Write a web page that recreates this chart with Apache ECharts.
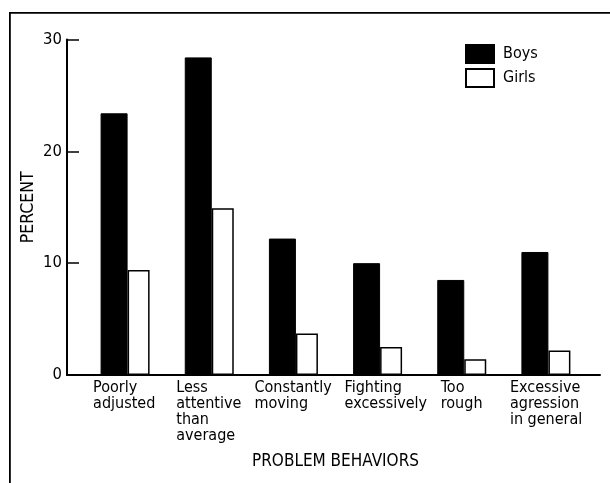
<!DOCTYPE html>
<html>
<head>
<meta charset="utf-8">
<script src="https://cdn.jsdelivr.net/npm/echarts@6/dist/echarts.min.js"></script>
<style>
html,body{margin:0;padding:0;background:#fff;}
#chart{width:610px;height:483px;}
</style>
</head>
<body>
<div id="chart"></div>
<script>
// ---- data ----
const categories = ['Poorly\nadjusted', 'Less\nattentive\nthan\naverage', 'Constantly\nmoving', 'Fighting\nexcessively', 'Too\nrough', 'Excessive\nagression\nin general'];
const boys = [23.4, 28.4, 12.2, 10.0, 8.5, 11.0];
const girls = [9.4, 14.9, 3.7, 2.5, 1.4, 2.2];
const seriesNames = ['Boys', 'Girls'];
const yTicks = [0, 10, 20, 30];
const yTitle = 'PERCENT';
const xTitle = 'PROBLEM BEHAVIORS';

// ---- style ----
const FONT = "'DejaVu Sans Condensed', 'Liberation Sans', sans-serif";
const labelShift = [32, 33, 39, 33, 21, 36];
const rich = {};
labelShift.forEach((s, i) => {
  rich['r' + i] = { width: s * 2, align: 'left', fontSize: 16, lineHeight: 16, color: '#000', fontFamily: FONT };
});

const chart = echarts.init(document.getElementById('chart'), null, { renderer: 'canvas' });
chart.setOption({
  animation: false,
  backgroundColor: '#fff',
  textStyle: { fontFamily: FONT, color: '#000' },
  graphic: [{
    type: 'rect', left: 9, top: 12,
    shape: { width: 700, height: 600 },
    style: { fill: 'transparent', stroke: '#000', lineWidth: 1.8 },
    silent: true
  }],
  legend: {
    data: seriesNames,
    orient: 'vertical',
    left: 460, top: 39,
    itemWidth: 28, itemHeight: 18, itemGap: 4,
    icon: 'rect',
    textStyle: { fontSize: 16, color: '#000', fontFamily: FONT, padding: [0, 0, 0, 4] }
  },
  grid: [
    { left: 83, right: 22, top: 39.5, bottom: 108 },
    { left: 67, right: 10, top: 39.5, bottom: 108 }
  ],
  xAxis: [{
    type: 'category',
    gridIndex: 0,
    data: categories,
    axisLine: { show: false },
    axisTick: { show: false },
    axisLabel: {
      interval: 0,
      margin: 5,
      align: 'center',
      verticalAlign: 'top',
      formatter: (v, i) => '{r' + i + '|' + v + '}',
      rich: rich
    },
    name: xTitle,
    nameLocation: 'middle',
    nameGap: 78,
    nameMoveOverlap: false,
    nameTextStyle: { fontSize: 17, color: '#000', fontFamily: FONT }
  }, {
    type: 'value',
    gridIndex: 1,
    min: 0, max: 1,
    axisLine: { show: true, onZero: false, lineStyle: { color: '#000', width: 2 } },
    axisTick: { show: false },
    axisLabel: { show: false },
    splitLine: { show: false }
  }],
  yAxis: [{
    type: 'value',
    gridIndex: 0,
    min: yTicks[0], max: yTicks[yTicks.length - 1], interval: 10,
    offset: 16,
    axisLine: { show: true, lineStyle: { color: '#000', width: 2 } },
    axisTick: { show: true, inside: true, length: 12, lineStyle: { color: '#000', width: 1.5 } },
    axisLabel: { margin: 5, fontSize: 16.5, color: '#000', fontFamily: FONT },
    splitLine: { show: false },
    name: yTitle,
    nameLocation: 'middle',
    nameGap: 30,
    nameMoveOverlap: false,
    nameTextStyle: { fontSize: 17.5, color: '#000', fontFamily: FONT }
  }, {
    type: 'value',
    gridIndex: 1,
    min: 0, max: 1,
    show: false
  }],
  series: [{
    name: seriesNames[0],
    type: 'bar',
    data: boys,
    barWidth: 27,
    barGap: '0%',
    itemStyle: { color: '#000', borderColor: '#000', borderWidth: 1 }
  }, {
    name: seriesNames[1],
    type: 'bar',
    data: girls,
    barWidth: 22,
    barGap: '0%',
    itemStyle: { color: '#fff', borderColor: '#000', borderWidth: 1.5 }
  }]
});
</script>
</body>
</html>
